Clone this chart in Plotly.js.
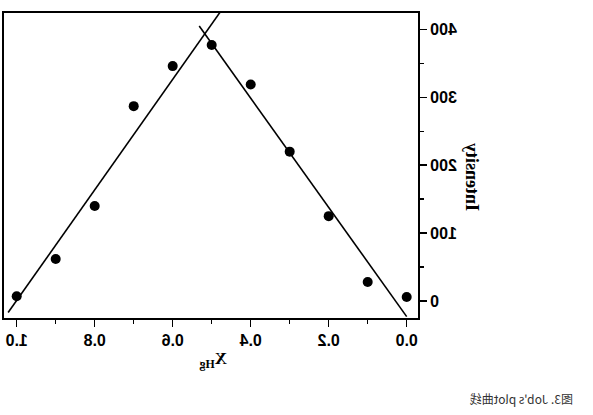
<!DOCTYPE html>
<html>
<head>
<meta charset="utf-8">
<script src="https://cdn.plot.ly/plotly-3.0.1.min.js"></script>
<style>
  html, body { margin: 0; padding: 0; background: #fff; overflow: hidden; }
  #chart { width: 593px; height: 415px; transform: scaleX(-1); transform-origin: center; }
</style>
</head>
<body>
<div id="chart"></div>
<script>
// Mole fraction of Hg and measured intensity
const moleFraction = [1.0, 0.9, 0.8, 0.7, 0.6, 0.5, 0.4, 0.3, 0.2, 0.1, 0.0];
const intensity    = [7, 62, 140, 287, 346, 377, 319, 220, 125, 28, 6];

// Linear fit lines (endpoints)
const fitLeftX  = [1.022, 0.479];
const fitLeftY  = [-17, 425];
const fitRightX = [0.532, 0.0];
const fitRightY = [405, -23];

const xTickVals = [0.0, 0.2, 0.4, 0.6, 0.8, 1.0];
const xTickText = ['0.0', '0.2', '0.4', '0.6', '0.8', '1.0'];
const yTickVals = [0, 100, 200, 300, 400];
const yTickText = ['0', '100', '200', '300', '400'];

const captionText = '图3. Job\'s plot曲线';
const yTitle = 'Intensity';
const xTitle = 'X<sub>Hg</sub>';

const W = 593, H = 415;
const M = { l: 175, r: 4, t: 13, b: 97 };
const pw = W - M.l - M.r, ph = H - M.t - M.b;
const px = v => (v - M.l) / pw;
const py = v => (H - M.b - v) / ph;

const traces = [
  { x: fitLeftX, y: fitLeftY, mode: 'lines', line: { color: '#000', width: 1.6 }, hoverinfo: 'skip' },
  { x: fitRightX, y: fitRightY, mode: 'lines', line: { color: '#000', width: 1.6 }, hoverinfo: 'skip' },
  { x: moleFraction, y: intensity, mode: 'markers', marker: { color: '#000', size: 10 } }
];

const tickFont = { family: 'Liberation Sans, Arial, sans-serif', size: 16, color: '#000', weight: 'bold' };

const layout = {
  width: W, height: H,
  margin: M,
  showlegend: false,
  paper_bgcolor: '#fff',
  plot_bgcolor: '#fff',
  xaxis: {
    range: [-0.029, 1.0326],
    tickmode: 'array', tickvals: xTickVals, ticktext: xTickText,
    ticks: 'outside', ticklen: 7, tickwidth: 1.5, tickcolor: '#000',
    minor: { dtick: 0.1, tick0: 0, ticks: 'outside', ticklen: 4, tickwidth: 1.5, tickcolor: '#000', showgrid: false },
    showline: true, linewidth: 2, linecolor: '#000', mirror: true,
    showgrid: false, zeroline: false,
    tickfont: tickFont
  },
  yaxis: {
    range: [-25, 424.2],
    tickmode: 'array', tickvals: yTickVals, ticktext: yTickText,
    ticks: 'outside', ticklen: 7, tickwidth: 1.5, tickcolor: '#000',
    minor: { dtick: 50, tick0: 0, ticks: 'outside', ticklen: 4, tickwidth: 1.5, tickcolor: '#000', showgrid: false },
    showline: true, linewidth: 2, linecolor: '#000', mirror: true,
    showgrid: false, zeroline: false,
    tickfont: tickFont
  },
  annotations: [
    { text: yTitle, xref: 'paper', yref: 'paper', x: px(121), y: py(177), textangle: -90,
      showarrow: false, xanchor: 'center', yanchor: 'middle',
      font: { family: 'Liberation Serif, Times New Roman, serif', size: 18, color: '#000', weight: 'bold' } },
    { text: xTitle, xref: 'paper', yref: 'paper', x: px(380), y: py(360),
      showarrow: false, xanchor: 'center', yanchor: 'middle',
      font: { family: 'Liberation Serif, Times New Roman, serif', size: 17, color: '#000', weight: 'bold' } },
    { text: captionText, xref: 'paper', yref: 'paper', x: px(18), y: py(398),
      showarrow: false, xanchor: 'left', yanchor: 'middle',
      font: { family: 'Noto Sans CJK SC, Noto Sans, sans-serif', size: 12, color: '#333' } }
  ]
};

Plotly.newPlot('chart', traces, layout, { displayModeBar: false, staticPlot: true });
</script>
</body>
</html>
